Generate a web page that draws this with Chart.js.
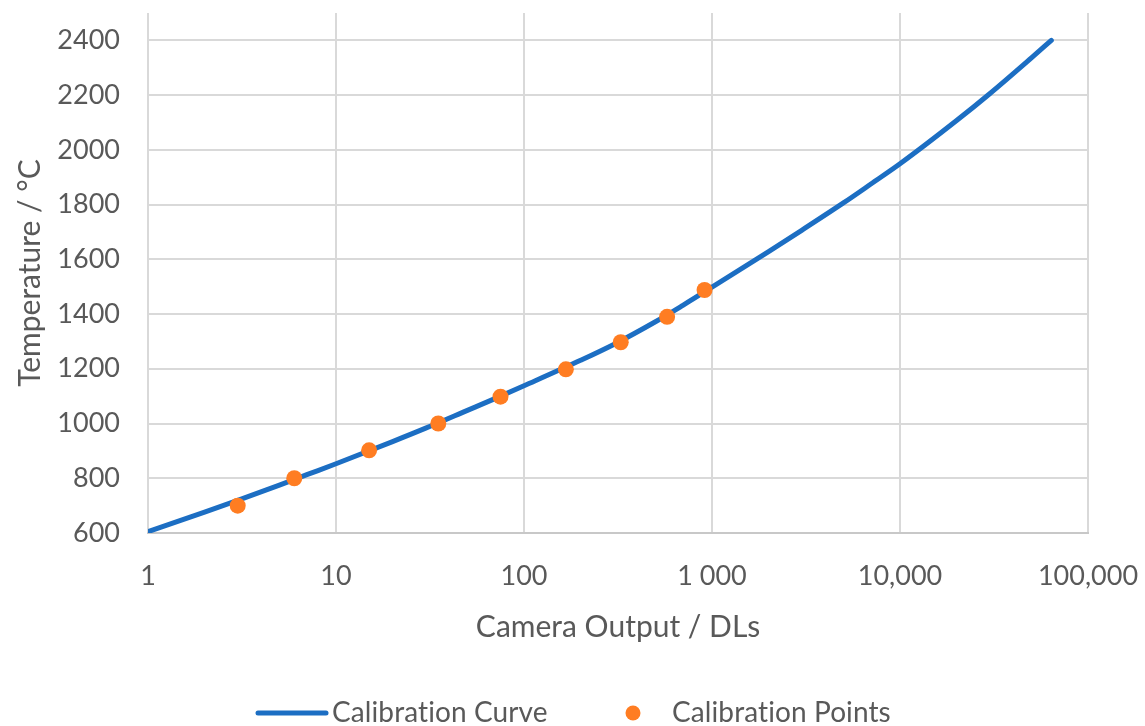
<!DOCTYPE html>
<html>
<head>
<meta charset="utf-8">
<script src="https://cdn.jsdelivr.net/npm/chart.js@4"></script>
<style>
html,body{margin:0;padding:0;background:#fff;}
#wrap{width:1145px;height:726px;position:relative;}
</style>
</head>
<body>
<div id="wrap"><canvas id="c" width="1145" height="726"></canvas></div>
<script>
// Calibration curve (camera output in DLs vs temperature in °C)
const curveDL   = [1, 2, 3, 5, 7, 10, 20, 30, 50, 70, 100, 200, 300, 500, 700, 1000, 2000, 3000, 5000, 7000, 10000, 20000, 30000, 50000, 63800];
const curveTemp = [605, 676, 719, 775, 813, 853, 934, 983, 1048, 1091, 1138, 1231, 1289, 1372, 1432, 1498, 1628, 1706, 1806, 1875, 1949, 2107, 2205, 2336, 2400];
// Calibration points
const pointDL   = [3, 6, 15, 35, 75, 167, 327, 577, 913];
const pointTemp = [700, 800, 902, 1000, 1098, 1198, 1297, 1390, 1488];
// Axis tick labels
const xTickValues = [1, 10, 100, 1000, 10000, 100000];
const xTickLabels = ['1', '10', '100', '1 000', '10,000', '100,000'];
const yTickValues = [600, 800, 1000, 1200, 1400, 1600, 1800, 2000, 2200, 2400];
const seriesNames = ['Calibration Curve', 'Calibration Points'];

const FONT = 'Lato';
const TXT = '#595959';
const BLUE = '#1c6ec3';
const ORANGE = '#ff7d22';

const legendPlugin = {
  id: 'customLegend',
  afterDraw(chart) {
    const ctx = chart.ctx;
    const y = 713;
    ctx.save();
    ctx.font = '28px ' + FONT;
    ctx.textBaseline = 'middle';
    ctx.textAlign = 'left';
    if ('letterSpacing' in ctx) ctx.letterSpacing = '0.1px';
    ctx.strokeStyle = BLUE;
    ctx.lineWidth = 5;
    ctx.lineCap = 'round';
    ctx.beginPath(); ctx.moveTo(258, y); ctx.lineTo(326, y); ctx.stroke();
    ctx.fillStyle = TXT;
    ctx.fillText(chart.data.datasets[0].label, 332, y);
    ctx.fillStyle = ORANGE;
    ctx.beginPath(); ctx.arc(633, y, 7.5, 0, Math.PI * 2); ctx.fill();
    ctx.fillStyle = TXT;
    ctx.fillText(chart.data.datasets[1].label, 672, y);
    ctx.restore();
  }
};

new Chart(document.getElementById('c'), {
  type: 'scatter',
  data: {
    datasets: [
      {
        label: seriesNames[0],
        data: curveDL.map((x, i) => ({x: x, y: curveTemp[i]})),
        showLine: true,
        borderColor: BLUE,
        backgroundColor: BLUE,
        borderWidth: 5,
        borderCapStyle: 'round',
        pointRadius: 0,
        cubicInterpolationMode: 'monotone',
        order: 2
      },
      {
        label: seriesNames[1],
        data: pointDL.map((x, i) => ({x: x, y: pointTemp[i]})),
        showLine: false,
        backgroundColor: ORANGE,
        borderColor: ORANGE,
        borderWidth: 0,
        pointRadius: 8,
        order: 1
      }
    ]
  },
  options: {
    responsive: false,
    animation: false,
    layout: {padding: {left: 0, right: 57, top: 13, bottom: 0}},
    plugins: {legend: {display: false}, tooltip: {enabled: false}},
    scales: {
      x: {
        type: 'logarithmic',
        min: 1, max: 100000,
        afterBuildTicks(scale) { scale.ticks = xTickValues.map(v => ({value: v})); },
        afterFit(scale) { scale.height = 193; scale.paddingLeft = 0; scale.paddingRight = 0; },
        ticks: {
          color: TXT, font: {family: FONT, size: 27}, padding: 27, maxRotation: 0, autoSkip: false,
          callback(value) { const i = xTickValues.indexOf(value); return i >= 0 ? xTickLabels[i] : ''; }
        },
        grid: {color: '#d9d9d9', lineWidth: 2, drawTicks: false},
        border: {color: '#c8c8c8', width: 2},
        title: {display: true, text: 'Camera Output / DLs', color: TXT, font: {family: FONT, size: 30}, padding: {top: 0, bottom: 81}}
      },
      y: {
        type: 'linear',
        min: 600, max: 2500,
        afterBuildTicks(scale) { scale.ticks = yTickValues.map(v => ({value: v})); },
        afterFit(scale) { scale.width = 148; scale.paddingTop = 0; scale.paddingBottom = 0; },
        ticks: {color: TXT, font: {family: FONT, size: 27}, padding: 28, autoSkip: false,
          callback(value) { return String(value); }},
        grid: {color: '#d9d9d9', lineWidth: 2, drawTicks: false},
        border: {display: false},
        title: {display: true, text: 'Temperature / °C', color: TXT, font: {family: FONT, size: 30}, padding: {top: 12, bottom: 0}}
      }
    }
  },
  plugins: [legendPlugin]
});
</script>
</body>
</html>
